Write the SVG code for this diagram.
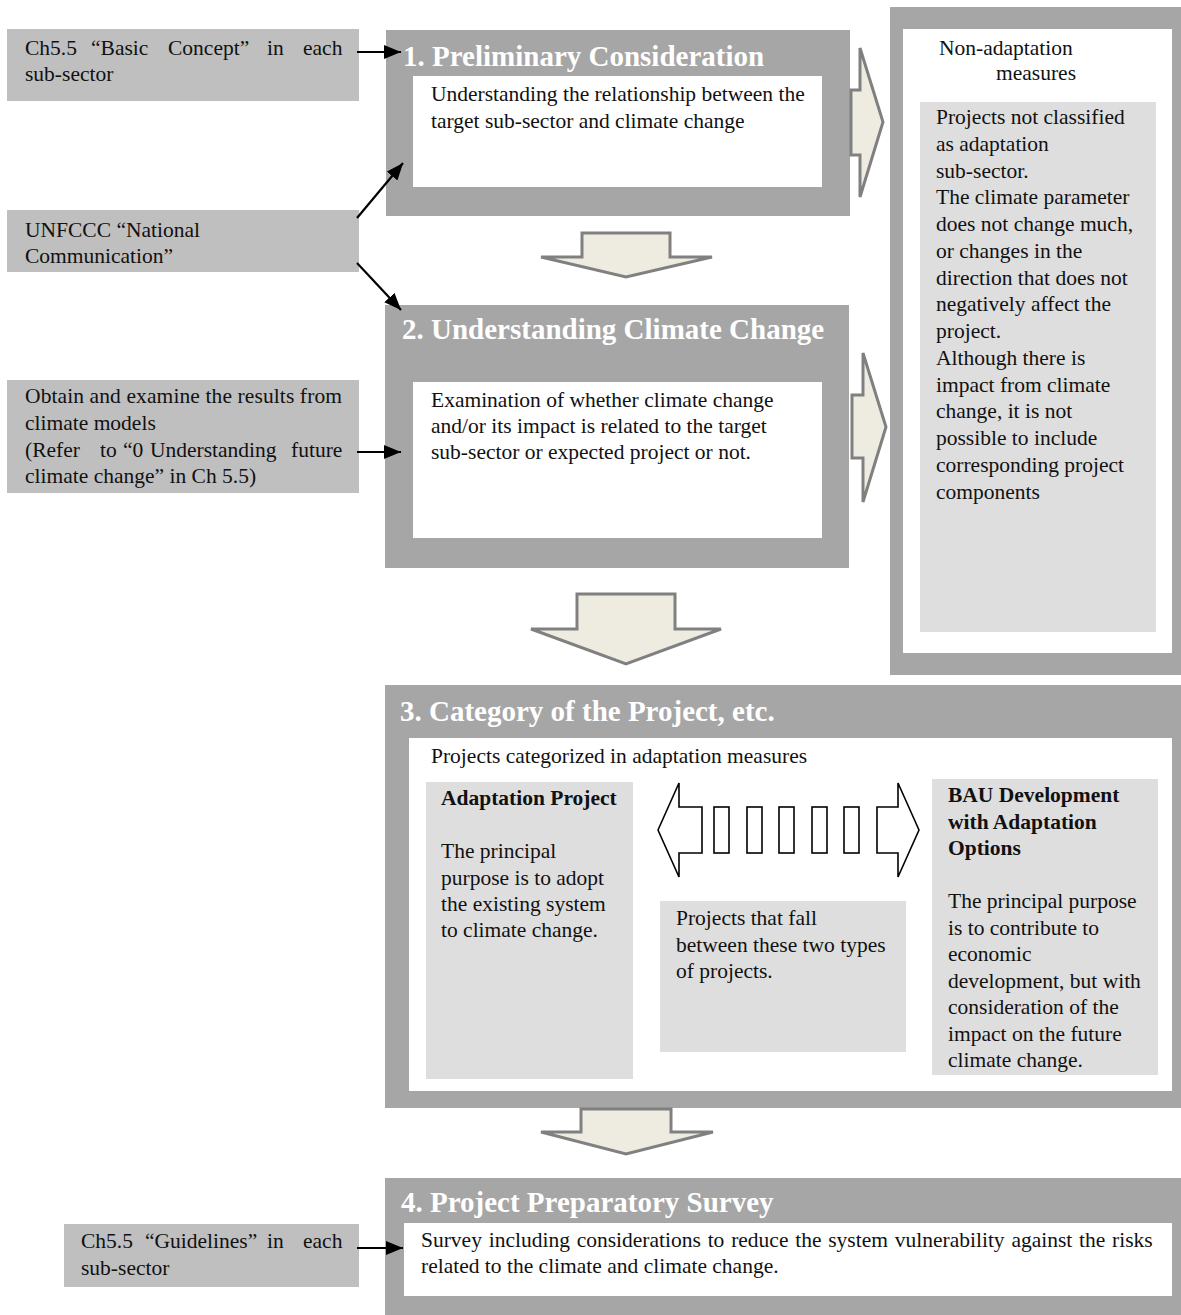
<svg xmlns="http://www.w3.org/2000/svg" width="1181" height="1315" viewBox="0 0 1181 1315">
  <defs>
    <style>
      .src { fill: #bfbfbf; }
      .frame { fill: #a6a6a6; }
      .panel { fill: #ffffff; }
      .note { fill: #dedede; }
      .t { font-family: "Liberation Serif", "Times New Roman", serif; font-size: 21.5px; fill: #111111; }
      .b { font-weight: bold; }
      .h { font-family: "Liberation Serif", "Times New Roman", serif; font-size: 29px; font-weight: bold; fill: #ffffff; }
      .flow { fill: #eeece1; stroke: #808080; stroke-width: 3; stroke-linejoin: miter; }
      .both { fill: #ffffff; stroke: #000000; stroke-width: 1.6; }
      .link { fill: none; stroke: #000000; stroke-width: 2.2; marker-end: url(#ah); }
    </style>
    <marker id="ah" markerUnits="userSpaceOnUse" markerWidth="17" markerHeight="14" refX="17" refY="7" orient="auto">
      <path d="M0,0 L17,7 L0,14 z" fill="#000000"/>
    </marker>
  </defs>

  <rect width="1181" height="1315" fill="#ffffff"/>

  <!-- reference sources on the left (justified lines are set word by word) -->
  <g id="src-basic-concept">
    <rect class="src" x="7" y="29" width="352" height="72"/>
    <text class="t" y="55"><tspan x="25">Ch5.5</tspan><tspan x="91">“Basic</tspan><tspan x="168">Concept”</tspan><tspan x="267">in</tspan><tspan x="303">each</tspan></text>
    <text class="t" x="25" y="81">sub-sector</text>
  </g>
  <g id="src-unfccc">
    <rect class="src" x="7" y="210" width="352" height="62"/>
    <text class="t" x="25" y="237">UNFCCC “National</text>
    <text class="t" x="25" y="263">Communication”</text>
  </g>
  <g id="src-climate-models">
    <rect class="src" x="7" y="380" width="352" height="113"/>
    <text class="t" x="25" y="403" textLength="317" lengthAdjust="spacing">Obtain and examine the results from</text>
    <text class="t" x="25" y="430">climate models</text>
    <text class="t" y="457"><tspan x="25">(Refer</tspan><tspan x="100">to</tspan><tspan x="123">“0</tspan><tspan x="150">Understanding</tspan><tspan x="291">future</tspan></text>
    <text class="t" x="25" y="483">climate change” in Ch 5.5)</text>
  </g>
  <g id="src-guidelines">
    <rect class="src" x="64" y="1224" width="295" height="63"/>
    <text class="t" y="1248"><tspan x="81">Ch5.5</tspan><tspan x="145">“Guidelines”</tspan><tspan x="267">in</tspan><tspan x="303">each</tspan></text>
    <text class="t" x="81" y="1275">sub-sector</text>
  </g>

  <!-- step 1 -->
  <g id="step1">
    <rect class="frame" x="386" y="30" width="464" height="186"/>
    <text class="h" x="403" y="66">1. Preliminary Consideration</text>
    <rect class="panel" x="413" y="76" width="409" height="111"/>
    <text class="t" x="431" y="101">Understanding the relationship between the</text>
    <text class="t" x="431" y="128">target sub-sector and climate change</text>
  </g>

  <!-- step 2 -->
  <g id="step2">
    <rect class="frame" x="385" y="305" width="464" height="263"/>
    <text class="h" x="402" y="339">2. Understanding Climate Change</text>
    <rect class="panel" x="413" y="382" width="409" height="156"/>
    <text class="t" x="431" y="407">Examination of whether climate change</text>
    <text class="t" x="431" y="433">and/or its impact is related to the target</text>
    <text class="t" x="431" y="459">sub-sector or expected project or not.</text>
  </g>

  <!-- non-adaptation measures -->
  <g id="non-adaptation">
    <rect class="frame" x="890" y="7" width="291" height="668"/>
    <rect class="panel" x="903" y="29" width="269" height="624"/>
    <text class="t" x="939" y="55">Non-adaptation</text>
    <text class="t" x="996" y="80">measures</text>
    <rect class="note" x="920" y="102" width="236" height="530"/>
    <text class="t" x="936" y="124">Projects not classified</text>
    <text class="t" x="936" y="150.75">as adaptation</text>
    <text class="t" x="936" y="177.5">sub-sector.</text>
    <text class="t" x="936" y="204.25">The climate parameter</text>
    <text class="t" x="936" y="231">does not change much,</text>
    <text class="t" x="936" y="257.75">or changes in the</text>
    <text class="t" x="936" y="284.5">direction that does not</text>
    <text class="t" x="936" y="311.25">negatively affect the</text>
    <text class="t" x="936" y="338">project.</text>
    <text class="t" x="936" y="364.75">Although there is</text>
    <text class="t" x="936" y="391.5">impact from climate</text>
    <text class="t" x="936" y="418.25">change, it is not</text>
    <text class="t" x="936" y="445">possible to include</text>
    <text class="t" x="936" y="471.75">corresponding project</text>
    <text class="t" x="936" y="498.5">components</text>
  </g>

  <!-- step 3 -->
  <g id="step3">
    <rect class="frame" x="385" y="685" width="796" height="423"/>
    <text class="h" x="400" y="721">3. Category of the Project, etc.</text>
    <rect class="panel" x="409" y="738" width="763" height="353"/>
    <text class="t" x="431" y="763">Projects categorized in adaptation measures</text>
  </g>
  <g id="adaptation-project">
    <rect class="note" x="426" y="782" width="207" height="297"/>
    <text class="t b" x="441" y="805">Adaptation Project</text>
    <text class="t" x="441" y="858">The principal</text>
    <text class="t" x="441" y="885">purpose is to adopt</text>
    <text class="t" x="441" y="911">the existing system</text>
    <text class="t" x="441" y="937">to climate change.</text>
  </g>
  <g id="in-between">
    <rect class="note" x="660" y="901" width="246" height="151"/>
    <text class="t" x="676" y="925">Projects that fall</text>
    <text class="t" x="676" y="952">between these two types</text>
    <text class="t" x="676" y="978">of projects.</text>
  </g>
  <g id="bau-development">
    <rect class="note" x="932" y="779" width="226" height="296"/>
    <text class="t b" x="948" y="802">BAU Development</text>
    <text class="t b" x="948" y="829">with Adaptation</text>
    <text class="t b" x="948" y="855">Options</text>
    <text class="t" x="948" y="908">The principal purpose</text>
    <text class="t" x="948" y="935">is to contribute to</text>
    <text class="t" x="948" y="961">economic</text>
    <text class="t" x="948" y="988">development, but with</text>
    <text class="t" x="948" y="1014">consideration of the</text>
    <text class="t" x="948" y="1041">impact on the future</text>
    <text class="t" x="948" y="1067">climate change.</text>
  </g>

  <!-- step 4 -->
  <g id="step4">
    <rect class="frame" x="385" y="1178" width="796" height="137"/>
    <text class="h" x="401" y="1212">4. Project Preparatory Survey</text>
    <rect class="panel" x="404" y="1223" width="768" height="73"/>
    <text class="t" x="421" y="1247" word-spacing="1.4">Survey including considerations to reduce the system vulnerability against the risks</text>
    <text class="t" x="421" y="1273">related to the climate and climate change.</text>
  </g>

  <!-- connectors: block flow arrows, spectrum arrow and reference links -->
  <g id="connectors">
    <polygon class="flow" points="582,233 670,233 670,257 712,257 626,277 541,257 582,257"/>
    <polygon class="flow" points="577,594 675,594 675,629 721,629 626,664 531,629 577,629"/>
    <polygon class="flow" points="581,1109 671,1109 671,1132 713,1132 626,1154 541,1132 581,1132"/>
    <polygon class="flow" points="851,90 860,90 860,48 883,122 860,197 860,155 851,155"/>
    <polygon class="flow" points="852,395 863,395 863,353 886,427 863,502 863,458 852,458"/>

    <polygon class="both" points="658,830 679,783 679,807 702,807 702,853 679,853 679,877"/>
    <rect class="both" x="714" y="807" width="15" height="46"/>
    <rect class="both" x="747" y="807" width="15" height="46"/>
    <rect class="both" x="779" y="807" width="15" height="46"/>
    <rect class="both" x="812" y="807" width="15" height="46"/>
    <rect class="both" x="844" y="807" width="15" height="46"/>
    <polygon class="both" points="919,830 898,783 898,807 877,807 877,853 898,853 898,877"/>

    <line class="link" x1="357" y1="52" x2="401" y2="52"/>
    <line class="link" x1="357" y1="218" x2="403" y2="163"/>
    <line class="link" x1="357" y1="263" x2="401" y2="310"/>
    <line class="link" x1="357" y1="452" x2="401" y2="452"/>
    <line class="link" x1="357" y1="1248" x2="403" y2="1248"/>
  </g>
</svg>
